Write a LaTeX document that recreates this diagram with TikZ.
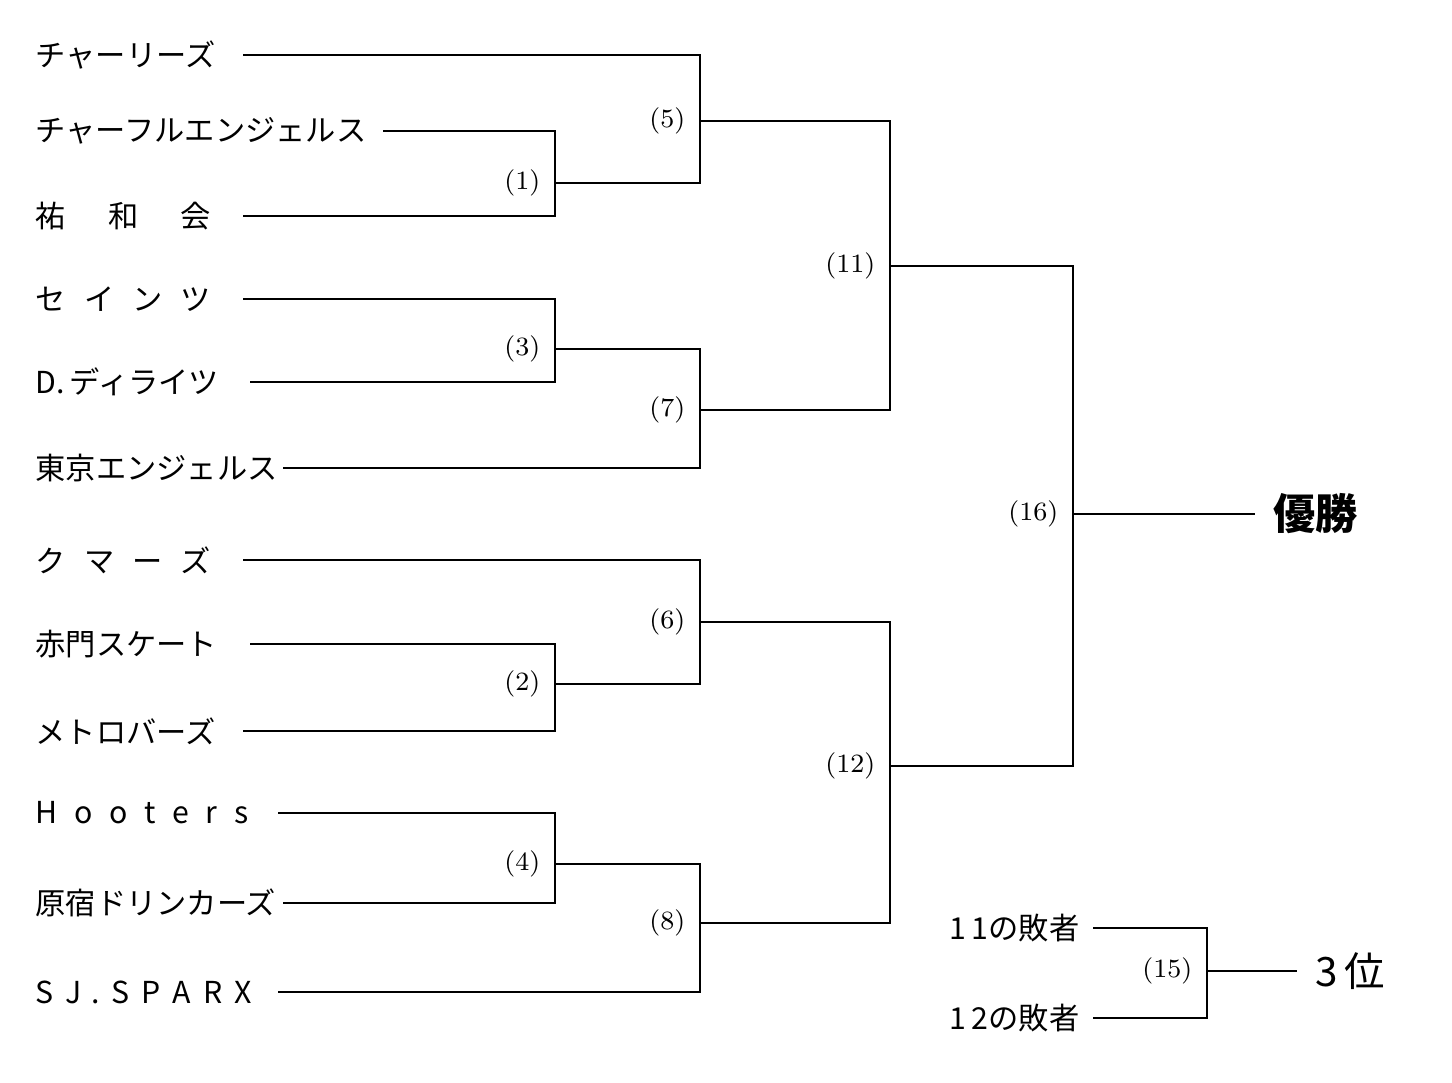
\documentclass[tikz,border=0pt]{standalone}
\usepackage{fontspec}
\newfontfamily\cjk{Noto Sans CJK JP}
\usetikzlibrary{positioning}
\begin{document}
\begin{tikzpicture}[x=0.01cm, y=-0.01cm,
  team/.style={anchor=west, inner sep=0pt, font=\cjk\fontsize{8.6}{10}\selectfont},
  gameno/.style={anchor=east, inner sep=0pt, font=\fontsize{7.5}{8}\selectfont},
  result/.style={anchor=west, inner sep=0pt, font=\cjk\fontsize{12}{14}\selectfont\bfseries},
  line/.style={draw=black, line width=0.6pt}
]
  \useasboundingbox (0,0) rectangle (1452,1083);
  % teams
  \node[team] (t1) at (35,55) {チャーリーズ};
  \node[team] (t2) at (35,131) {チャーフルエンジェルス};
  \node[team] (t3) at (35,216) {祐\hspace{1.4em}和\hspace{1.4em}会};
  \node[team] (t4) at (35,299) {セ\hspace{0.6em}イ\hspace{0.6em}ン\hspace{0.6em}ツ};
  \node[team] (t5) at (35,382) {D.\,ディライツ};
  \node[team] (t6) at (35,468) {東京エンジェルス};
  \node[team] (t7) at (35,560) {ク\hspace{0.6em}マ\hspace{0.6em}ー\hspace{0.6em}ズ};
  \node[team] (t8) at (35,644) {赤門スケート};
  \node[team] (t9) at (35,731) {メトロバーズ};
  \node[team] (t10) at (35,813) {H\hspace{0.55em}o\hspace{0.55em}o\hspace{0.55em}t\hspace{0.55em}e\hspace{0.55em}r\hspace{0.55em}s};
  \node[team] (t11) at (35,903) {原宿ドリンカーズ};
  \node[team] (t12) at (35,992) {S\hspace{0.4em}J\hspace{0.3em}.\hspace{0.4em}S\hspace{0.4em}P\hspace{0.4em}A\hspace{0.4em}R\hspace{0.4em}X};
  \node[team, anchor=east] (l11) at (1080,928) {1\,1の敗者};
  \node[team, anchor=east] (l12) at (1080,1018) {1\,2の敗者};
  % line ends
  \coordinate (s1) at (243,55);
  \coordinate (s2) at (383,131);
  \coordinate (s3) at (243,216);
  \coordinate (s4) at (243,299);
  \coordinate (s5) at (250,382);
  \coordinate (s6) at (283,468);
  \coordinate (s7) at (243,560);
  \coordinate (s8) at (250,644);
  \coordinate (s9) at (243,731);
  \coordinate (s10) at (278,813);
  \coordinate (s11) at (283,903);
  \coordinate (s12) at (278,992);
  \coordinate (s13) at (1093,928);
  \coordinate (s14) at (1093,1018);
  % games
  \coordinate (g1) at (555,183);
  \coordinate (g2) at (555,684);
  \coordinate (g3) at (555,349);
  \coordinate (g4) at (555,864);
  \coordinate (g5) at (700,121);
  \coordinate (g6) at (700,622);
  \coordinate (g7) at (700,410);
  \coordinate (g8) at (700,923);
  \coordinate (g11) at (890,266);
  \coordinate (g12) at (890,766);
  \coordinate (g16) at (1073,514);
  \coordinate (g15) at (1207,971);
  \foreach \g/\n in {g1/1,g2/2,g3/3,g4/4,g5/5,g6/6,g7/7,g8/8,g11/11,g12/12,g16/16,g15/15}
    \node[gameno, left=4pt of \g] (n\g) {(\n)};
  \draw[line] (s2) -| (g1) |- (s3);
  \draw[line] (s4) -| (g3) |- (s5);
  \draw[line] (s8) -| (g2) |- (s9);
  \draw[line] (s10) -| (g4) |- (s11);
  \draw[line] (s1) -| (g5) |- (g1);
  \draw[line] (g3) -| (g7) |- (s6);
  \draw[line] (s7) -| (g6) |- (g2);
  \draw[line] (g4) -| (g8) |- (s12);
  \draw[line] (g5) -| (g11) |- (g7);
  \draw[line] (g6) -| (g12) |- (g8);
  \draw[line] (g11) -| (g16) |- (g12);
  \draw[line] (s13) -| (g15) |- (s14);
  % results
  \node[result] (win) at (1273,514) {優勝};
  \node[result, font=\cjk\fontsize{11.5}{14}\selectfont] (third) at (1315,971) {3\,位};
  \draw[line] (g16) -- (1255,514) coordinate (e16);
  \draw[line] (g15) -- (1297,971) coordinate (e15);
\end{tikzpicture}
\end{document}
